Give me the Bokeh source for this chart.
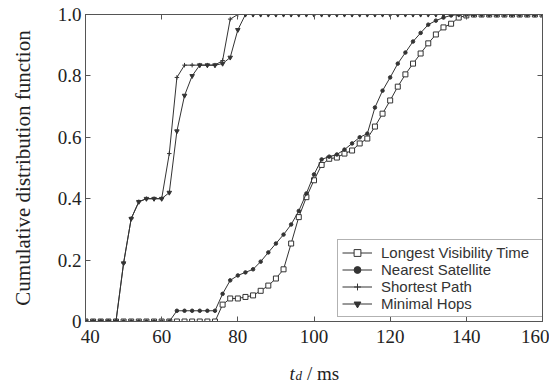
from bokeh.plotting import figure
from bokeh.layouts import column
from bokeh.models import (Range1d, LinearAxis, FixedTicker, Legend, LegendItem,
                          CustomJSTickFormatter)
from bokeh.core.properties import value
from bokeh.embed import file_html
from bokeh.resources import INLINE

# Delay samples (ms), one every 2 ms
t_ms = list(range(40, 162, 2))

longest_visibility = [0, 0, 0, 0, 0, 0, 0, 0, 0, 0,
                      0, 0, 0, 0, 0, 0, 0, 0, 0.055, 0.075,
                      0.075, 0.08, 0.085, 0.10, 0.117, 0.14, 0.17, 0.254, 0.34, 0.405,
                      0.46, 0.51, 0.53, 0.534, 0.547, 0.557, 0.58, 0.596, 0.635, 0.677,
                      0.72, 0.765, 0.805, 0.84, 0.873, 0.906, 0.935, 0.958, 0.97, 0.99,
                      0.997, 1, 1, 1, 1, 1, 1, 1, 1, 1, 1]
nearest_satellite = [0, 0, 0, 0, 0, 0, 0, 0, 0, 0,
                     0, 0, 0.035, 0.035, 0.035, 0.035, 0.035, 0.035, 0.09, 0.134,
                     0.15, 0.16, 0.17, 0.195, 0.225, 0.254, 0.283, 0.316, 0.36, 0.417,
                     0.479, 0.528, 0.537, 0.544, 0.56, 0.58, 0.60, 0.612, 0.697, 0.752,
                     0.795, 0.84, 0.876, 0.912, 0.94, 0.967, 0.98, 0.99, 0.997, 1,
                     1, 1, 1, 1, 1, 1, 1, 1, 1, 1, 1]
shortest_path = [0, 0, 0, 0, 0, 0.19, 0.335, 0.39, 0.40, 0.40,
                 0.40, 0.547, 0.795, 0.835, 0.835, 0.835, 0.835, 0.835, 0.85, 0.985,
                 1, 1, 1, 1, 1, 1, 1, 1, 1, 1,
                 1, 1, 1, 1, 1, 1, 1, 1, 1, 1,
                 1, 1, 1, 1, 1, 1, 1, 1, 1, 1,
                 1, 1, 1, 1, 1, 1, 1, 1, 1, 1, 1]
minimal_hops = [0, 0, 0, 0, 0, 0.19, 0.335, 0.39, 0.40, 0.40,
                0.40, 0.42, 0.62, 0.736, 0.80, 0.835, 0.835, 0.835, 0.84, 0.86,
                0.95, 1, 1, 1, 1, 1, 1, 1, 1, 1,
                1, 1, 1, 1, 1, 1, 1, 1, 1, 1,
                1, 1, 1, 1, 1, 1, 1, 1, 1, 1,
                1, 1, 1, 1, 1, 1, 1, 1, 1, 1, 1]

x_ticks = [40, 60, 80, 100, 120, 140, 160]
x_tick_labels = ["40", "60", "80", "100", "120", "140", "160"]
y_ticks = [0, 0.2, 0.4, 0.6, 0.8, 1.0]
y_tick_labels = ["0", "0.2", "0.4", "0.6", "0.8", "1.0"]

series_names = ["Longest Visibility Time", "Nearest Satellite", "Shortest Path", "Minimal Hops"]

INK = "#333333"
FRAME = "#555555"
TEXT = "#222222"
SERIF = "Liberation Serif"
NBSP = "\u00a0"

# page geometry (px)
W, H = 549, 380
LEFT, RIGHT, TOP, FRAME_H, BOTTOM = 85, 7, 14, 307, 33
MAIN_H = TOP + FRAME_H + BOTTOM
OVERLAP = 20                      # title strip slides up over the main plot's margin
STRIP_H = H - MAIN_H + OVERLAP

X0, X1 = 40, 160
Y0, Y1 = 0, 1

p = figure(width=W, height=MAIN_H, x_range=Range1d(X0, X1), y_range=Range1d(Y0, Y1),
           output_backend="svg", toolbar_location=None,
           min_border_left=LEFT, min_border_right=RIGHT, min_border_top=TOP,
           min_border_bottom=BOTTOM)
p.xgrid.visible = False
p.ygrid.visible = False
p.outline_line_color = FRAME
p.outline_line_width = 1

blank = CustomJSTickFormatter(code="return ''")


def style_axis(ax, ticks):
    ax.ticker = FixedTicker(ticks=ticks)
    ax.axis_line_color = FRAME
    ax.major_tick_line_color = FRAME
    ax.major_tick_in = 5
    ax.major_tick_out = 0
    ax.minor_tick_line_color = None


def silence_labels(ax):
    ax.formatter = blank
    ax.major_label_standoff = 0
    ax.major_label_text_font_size = "0px"


# the first x label is padded with no-break spaces so it sits a little
# inside the frame's left end
x_label_text = list(x_tick_labels)
x_label_text[0] = NBSP * 2 + x_label_text[0]

xa = p.xaxis[0]
style_axis(xa, x_ticks)
xa.major_label_overrides = dict(zip(x_ticks, x_label_text))
xa.major_label_standoff = 4
xa.major_label_text_font = SERIF
xa.major_label_text_font_size = "19px"
xa.major_label_text_color = TEXT

ya = p.yaxis[0]
style_axis(ya, y_ticks)
ya.major_label_overrides = dict(zip(y_ticks, y_tick_labels))
ya.major_label_standoff = 4
ya.major_label_text_font = SERIF
ya.major_label_text_font_size = "19px"
ya.major_label_text_color = TEXT
ya.axis_label = "Cumulative distribution function"
ya.axis_label_text_font = SERIF
ya.axis_label_text_font_size = "21px"
ya.axis_label_text_font_style = "normal"
ya.axis_label_text_color = TEXT
ya.axis_label_standoff = 20

# closing box: ticks on top and right as well
top_ax = LinearAxis()
right_ax = LinearAxis()
style_axis(top_ax, x_ticks)
style_axis(right_ax, y_ticks)
silence_labels(top_ax)
silence_labels(right_ax)
p.add_layout(top_ax, "above")
p.add_layout(right_ax, "right")

series = [longest_visibility, nearest_satellite, shortest_path, minimal_hops]
marker_styles = [
    dict(marker="square", size=5, fill_color="white"),
    dict(marker="circle", size=3.5, fill_color=INK),
    dict(marker="cross", size=4.5, fill_color=INK),
    dict(marker="inverted_triangle", size=4.5, fill_color=INK),
]

items = []
for name, ys, mk in zip(series_names, series, marker_styles):
    ln = p.line(t_ms, ys, line_color=INK, line_width=1)
    sc = p.scatter(t_ms, ys, line_color=INK, line_width=1, **mk)
    items.append(LegendItem(label=name, renderers=[ln, sc]))

legend = Legend(items=items, location=(252, 4), margin=0, padding=4, spacing=0,
                label_height=17, glyph_height=17, glyph_width=30, label_standoff=9,
                label_width=157, border_line_color="#666666", border_line_width=1,
                background_fill_color="white", background_fill_alpha=1.0,
                label_text_font="Liberation Sans", label_text_font_size="15px",
                label_text_color=INK)
p.add_layout(legend)

# transparent strip under the plot carrying the x title t_d / ms (mixed
# styles); texts are placed from the strip's bottom edge
strip = figure(width=W, height=STRIP_H, x_range=p.x_range, y_range=Range1d(0, 1),
               output_backend="svg", toolbar_location=None,
               x_axis_location=None, y_axis_location=None,
               min_border_left=LEFT, min_border_right=RIGHT,
               min_border_top=0, min_border_bottom=0, margin=(-OVERLAP, 0, 0, 0))
strip.xgrid.visible = False
strip.ygrid.visible = False
strip.outline_line_color = None
strip.background_fill_alpha = 0
strip.border_fill_alpha = 0

x_mid = (X0 + X1) / 2
strip.text(x=[x_mid], y=[0], text=["t"], x_offset=-24.5, y_offset=-7, text_align="left",
           text_baseline="alphabetic", text_font=value(SERIF), text_font_style="italic",
           text_font_size="19px", text_color=TEXT)
strip.text(x=[x_mid], y=[0], text=["d"], x_offset=-18.5, y_offset=-5, text_align="left",
           text_baseline="alphabetic", text_font=value(SERIF), text_font_style="italic",
           text_font_size="13px", text_color=TEXT)
strip.text(x=[x_mid], y=[0], text=["/ ms"], x_offset=-7, y_offset=-7, text_align="left",
           text_baseline="alphabetic", text_font=value(SERIF),
           text_font_size="19px", text_color=TEXT)

layout = column(p, strip, spacing=0)
open("out.html", "w").write(file_html(layout, INLINE))
